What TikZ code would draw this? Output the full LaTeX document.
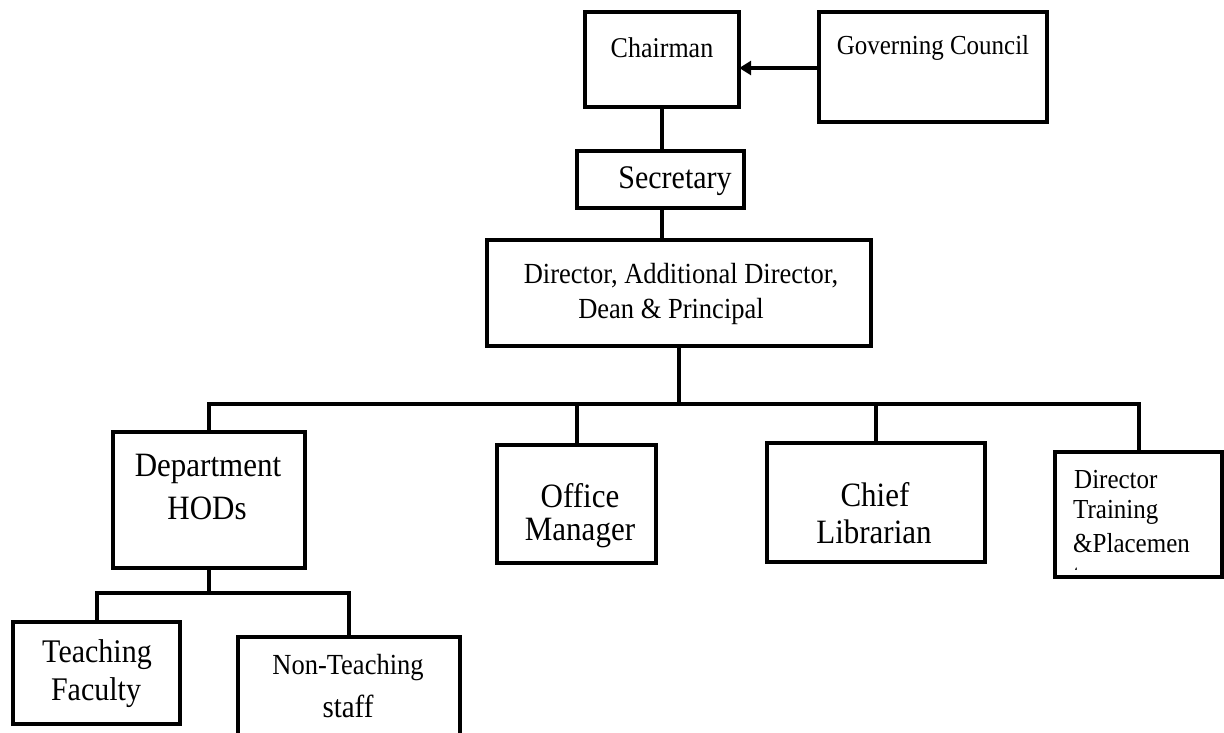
\documentclass[tikz,border=0pt]{standalone}
\usepackage{fontspec}
\setmainfont{Liberation Serif}
\usetikzlibrary{arrows.meta}
\tikzset{
  box/.style={draw=black, line width=4pt, fill=none},
  conn/.style={draw=black, line width=4pt},
  lbl/.style={inner sep=0pt, align=center, text=black},
}
\newcommand{\tx}[2]{\scalebox{1}[1.1]{\fontsize{#1}{#1}\selectfont #2}}
\begin{document}
\begin{tikzpicture}[x=1pt,y=-1pt]
\useasboundingbox (0,0) rectangle (1224,733);
\begin{scope}
\clip (0,0) rectangle (1224,733);
% boxes
\draw[box] (585,12) rectangle (739,107);
\node[inner sep=0, minimum width=154pt, minimum height=95pt] (chair) at (662,59.5) {};
\draw[box] (819,12) rectangle (1047,122);
\node[inner sep=0, minimum width=228pt, minimum height=110pt] (gov) at (933,67) {};
\draw[box] (577,151) rectangle (744,208);
\node[inner sep=0, minimum width=167pt, minimum height=57pt] (sec) at (660.5,179.5) {};
\draw[box] (487,240) rectangle (871,346);
\node[inner sep=0, minimum width=384pt, minimum height=106pt] (dir) at (679,293) {};
\draw[box] (113,432) rectangle (305,568);
\node[inner sep=0, minimum width=192pt, minimum height=136pt] (dept) at (209,500) {};
\draw[box] (497,445) rectangle (656,563);
\node[inner sep=0, minimum width=159pt, minimum height=118pt] (office) at (576.5,504) {};
\draw[box] (767,443) rectangle (985,562);
\node[inner sep=0, minimum width=218pt, minimum height=119pt] (chief) at (876,502.5) {};
\draw[box] (1055,452) rectangle (1222,577);
\node[inner sep=0, minimum width=167pt, minimum height=125pt] (train) at (1138.5,514.5) {};
\draw[box] (13,622) rectangle (180,724);
\node[inner sep=0, minimum width=167pt, minimum height=102pt] (teach) at (96.5,673) {};
\draw[box] (238,637) rectangle (460,760);
\node[inner sep=0, minimum width=222pt, minimum height=123pt] (nonteach) at (349,698.5) {};
% labels
\node[lbl] (tchair) at (662,48) {\tx{26}{Chairman}};
\node[lbl] (tgov) at (933,48) {\tx{25}{Governing Council}};
\node[lbl] (tsec) at (675,181) {\tx{30}{Secretary}};
\node[lbl] (tdir1) at (681,276) {\tx{26.5}{Director, Additional Director,}};
\node[lbl] (tdir2) at (671,311) {\tx{26.5}{Dean \& Principal}};
\node[lbl] (tdept1) at (208,469) {\tx{31}{Department}};
\node[lbl] (tdept2) at (207,508) {\tx{31}{HODs}};
\node[lbl] (toff1) at (580,496) {\tx{31}{Office}};
\node[lbl] (toff2) at (580,533) {\tx{31}{Manager}};
\node[lbl] (tchief1) at (875,495) {\tx{31}{Chief}};
\node[lbl] (tchief2) at (874,532) {\tx{31}{Librarian}};
\node[lbl, anchor=west] (ttr1) at (1074,480) {\tx{25}{Director}};
\node[lbl, anchor=west] (ttr2) at (1073,512) {\tx{25}{Training}};
\node[lbl, anchor=west] (ttr3) at (1073,543) {\tx{25}{\&Placemen}};
\begin{scope}
\clip (1060,561) rectangle (1100,569);
\node[lbl, anchor=west] (ttr4) at (1073,576) {\tx{25}{t}};
\end{scope}
\node[lbl] (tteach1) at (97,655) {\tx{30}{Teaching}};
\node[lbl] (tteach2) at (96,693) {\tx{30}{Faculty}};
\node[lbl] (tnon1) at (348,668) {\tx{26.5}{Non-Teaching}};
\node[lbl] (tnon2) at (348,706) {\tx{29}{staff}};
% connectors
\draw[conn, -{Triangle[length=12pt,width=14pt]}] (gov.west |- 0,68) -- (chair.east |- 0,68);
\draw[conn] (chair.south) -- (chair.south |- sec.north);
\draw[conn] (dir.north -| chair.south) -- (sec.south -| chair.south);
\coordinate (bus) at (679,404);
\draw[conn] (dir.south) -- (bus);
\draw[conn] (dept.north) -- (dept.north |- bus) -- (train.north |- bus) -- (train.north);
\draw[conn] (office.north |- bus) -- (office.north);
\draw[conn] (chief.north |- bus) -- (chief.north);
\coordinate (hbus) at (209,593);
\draw[conn] (dept.south) -- (hbus);
\draw[conn] (teach.north) -- (teach.north |- hbus) -- (nonteach.north |- hbus) -- (nonteach.north);
\end{scope}
\end{tikzpicture}
\end{document}
